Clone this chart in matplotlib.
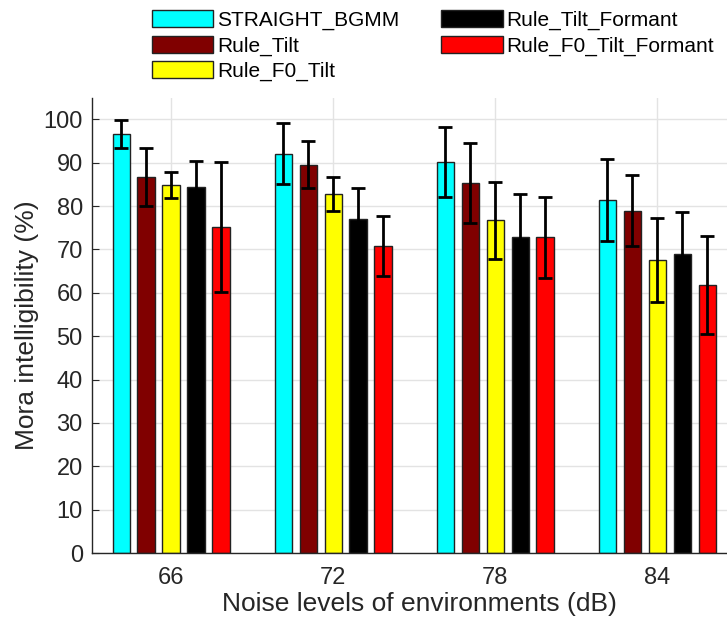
import numpy as np
import matplotlib
matplotlib.use("Agg")
import matplotlib.pyplot as plt

plt.rcParams["font.family"] = ["Liberation Sans", "DejaVu Sans"]

# noise levels (dB) and mora intelligibility (%) per method
levels = ["66", "72", "78", "84"]
methods = ["STRAIGHT_BGMM", "Rule_Tilt", "Rule_F0_Tilt",
           "Rule_Tilt_Formant", "Rule_F0_Tilt_Formant"]
straight_bgmm = [96.7, 92.1, 90.1, 81.4]
rule_tilt = [86.8, 89.5, 85.3, 78.9]
rule_f0_tilt = [84.8, 82.8, 76.7, 67.6]
rule_tilt_formant = [84.5, 77.0, 72.8, 68.9]
rule_f0_tilt_formant = [75.1, 70.8, 72.8, 61.9]

# error bar half-widths
err_straight_bgmm = [3.2, 7.0, 8.1, 9.4]
err_rule_tilt = [6.7, 5.4, 9.3, 8.2]
err_rule_f0_tilt = [3.0, 3.9, 8.9, 9.6]
err_rule_tilt_formant = [5.8, 7.1, 9.9, 9.7]
err_rule_f0_tilt_formant = [15.0, 7.0, 9.4, 11.3]

values = [straight_bgmm, rule_tilt, rule_f0_tilt, rule_tilt_formant, rule_f0_tilt_formant]
errors = [err_straight_bgmm, err_rule_tilt, err_rule_f0_tilt,
          err_rule_tilt_formant, err_rule_f0_tilt_formant]
colors = ["#00ffff", "#800000", "#ffff00", "#000000", "#ff0000"]

fig = plt.figure(figsize=(7.27, 6.26), dpi=100)
ax = fig.add_axes([92.5 / 727, 73 / 626, (727 - 92.5) / 727, (553 - 97.7) / 626])

x = np.arange(1, len(levels) + 1)
step = 0.154
width = 0.107
for k, (vals, errs, col, name) in enumerate(zip(values, errors, colors, methods)):
    pos = x + (k - 2) * step
    ax.bar(pos, vals, width, color=col, edgecolor="#222222", linewidth=1.0,
           label=name, zorder=2)
    ax.errorbar(pos, vals, yerr=errs, fmt="none", ecolor="black",
                elinewidth=2.0, capsize=5, capthick=2.0, zorder=3)

ax.set_xlim(0.515, 4.43)
ax.set_ylim(0, 105)
ax.set_xticks(x)
ax.set_xticklabels(levels)
ax.set_yticks(np.arange(0, 101, 10))
ax.grid(True, color="#e3e3e3", linewidth=1.0, zorder=0)
ax.set_axisbelow(True)
ax.spines["top"].set_visible(False)
ax.spines["right"].set_visible(False)
for s in ("left", "bottom"):
    ax.spines[s].set_color("#262626")
    ax.spines[s].set_linewidth(1.0)
ax.tick_params(direction="in", length=5, labelsize=17, colors="#262626")
ax.tick_params(axis="y", pad=7)
ax.tick_params(axis="x", pad=10)

ax.set_xlabel("Noise levels of environments (dB)", fontsize=19, color="#262626", labelpad=2)
ax.xaxis.set_label_coords(0.5146, -0.085)
ax.set_ylabel("Mora intelligibility (%)", fontsize=19, color="#262626", labelpad=3)

fig.legend(loc="upper left", bbox_to_anchor=(144 / 727, 1 - 2 / 626), ncol=2,
           frameon=False, fontsize=15, handlelength=2.93, handleheight=0.87,
           labelspacing=0.27, columnspacing=2.0, handletextpad=0.2,
           borderaxespad=0)

fig.savefig("out.png", dpi=100)
